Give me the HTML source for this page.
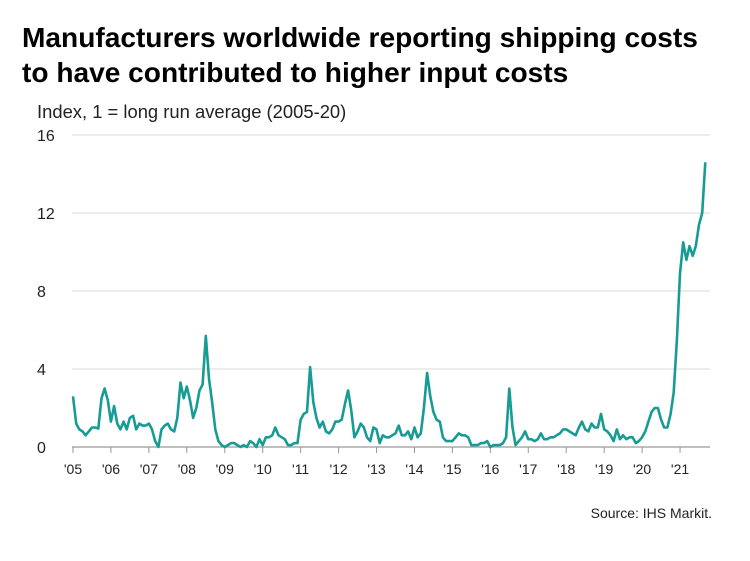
<!DOCTYPE html>
<html><head><meta charset="utf-8"><style>
body{margin:0;background:#fff;font-family:"Liberation Sans",Arial,sans-serif}
</style></head><body>
<svg width="750" height="556" xmlns="http://www.w3.org/2000/svg">
<rect width="750" height="556" fill="#fff"/>
<text x="22" y="47" font-size="28.1" font-weight="bold" fill="#000">Manufacturers worldwide reporting shipping costs</text>
<text x="22" y="82" font-size="28.1" font-weight="bold" fill="#000">to have contributed to higher input costs</text>
<text x="37" y="118" font-size="18.4" fill="#222">Index, 1 = long run average (2005-20)</text>
<g id="grid"></g>
<g id="xaxis"></g>
<path id="line" fill="none" stroke="#179b95" stroke-width="2.6" stroke-linejoin="round"/>
<text x="712" y="518" font-size="14" fill="#222" text-anchor="end">Source: IHS Markit.</text>
</svg>
<script>
const yTicks=[0,4,8,12,16];
const yearLabels=["'05","'06","'07","'08","'09","'10","'11","'12","'13","'14","'15","'16","'17","'18","'19","'20","'21"];
const startYear=2005;
const values=[
2.6,1.2,0.9,0.8,0.6,0.8,1.0,1.0,0.95,2.5,3.0,2.4,
1.3,2.1,1.2,0.9,1.3,0.9,1.5,1.6,0.9,1.2,1.1,1.1,
1.2,0.9,0.3,0.0,0.9,1.1,1.2,0.9,0.8,1.5,3.3,2.5,
3.1,2.4,1.5,2.0,2.9,3.2,5.7,3.5,2.3,0.9,0.3,0.1,
0.0,0.1,0.2,0.2,0.1,0.0,0.1,0.0,0.3,0.2,0.0,0.4,
0.1,0.5,0.5,0.6,1.0,0.6,0.5,0.4,0.1,0.1,0.2,0.2,
1.4,1.7,1.8,4.1,2.3,1.5,1.0,1.3,0.8,0.7,0.9,1.3,
1.3,1.4,2.2,2.9,1.9,0.5,0.8,1.2,1.0,0.5,0.3,1.0,
0.9,0.2,0.6,0.5,0.5,0.6,0.7,1.1,0.6,0.6,0.8,0.4,
1.0,0.5,0.7,2.0,3.8,2.6,1.8,1.4,1.3,0.5,0.3,0.3,
0.3,0.5,0.7,0.6,0.6,0.5,0.1,0.1,0.1,0.2,0.2,0.3,
0.0,0.1,0.1,0.1,0.2,0.5,3.0,1.0,0.1,0.3,0.5,0.8,
0.4,0.4,0.3,0.4,0.7,0.4,0.4,0.5,0.5,0.6,0.7,0.9,
0.9,0.8,0.7,0.6,1.0,1.3,0.9,0.8,1.2,1.0,1.0,1.7,
0.9,0.8,0.6,0.3,0.9,0.4,0.6,0.4,0.5,0.5,0.2,0.3,
0.5,0.8,1.3,1.8,2.0,2.0,1.4,1.0,1.0,1.7,2.8,5.5,
8.9,10.5,9.6,10.3,9.8,10.3,11.4,12.0,14.6];
const NS="http://www.w3.org/2000/svg";
const x0=73,pxYear=37.94,y0=447,pxUnit=19.5;
const xScale=m=>x0+m*pxYear/12;
const yScale=v=>y0-v*pxUnit;
const grid=document.getElementById('grid');
yTicks.forEach(t=>{
  const y=yScale(t);
  if(t>0){const l=document.createElementNS(NS,'line');
  l.setAttribute('x1',72);l.setAttribute('x2',710);l.setAttribute('y1',y);l.setAttribute('y2',y);
  l.setAttribute('stroke','#d9d9d9');l.setAttribute('stroke-width','1');
  
  
  grid.appendChild(l);}
  const tx=document.createElementNS(NS,'text');
  tx.setAttribute('x',37);tx.setAttribute('y',y+6);tx.setAttribute('font-size','16');tx.setAttribute('fill','#222');
  tx.textContent=t;
  
  
  grid.appendChild(tx);
});
const xa=document.getElementById('xaxis');
const base=document.createElementNS(NS,'line');
base.setAttribute('x1',72);base.setAttribute('x2',710);base.setAttribute('y1',y0);base.setAttribute('y2',y0);
base.setAttribute('stroke','#999');base.setAttribute('stroke-width','1.2');


xa.appendChild(base);
yearLabels.forEach((lab,i)=>{
  const x=xScale(i*12);
  const tk=document.createElementNS(NS,'line');
  tk.setAttribute('x1',x);tk.setAttribute('x2',x);tk.setAttribute('y1',y0);tk.setAttribute('y2',y0+6);
  tk.setAttribute('stroke','#999');
  
  
  xa.appendChild(tk);
  const tx=document.createElementNS(NS,'text');
  tx.setAttribute('x',x);tx.setAttribute('y',y0+27);tx.setAttribute('font-size','14');tx.setAttribute('fill','#222');
  tx.setAttribute('text-anchor','middle');
  tx.textContent=lab;
  
  
  xa.appendChild(tx);
});
document.getElementById('line').setAttribute('d',values.map((v,i)=>(i?'L':'M')+xScale(i).toFixed(1)+','+yScale(v).toFixed(1)).join(''));
</script>
</body></html>
